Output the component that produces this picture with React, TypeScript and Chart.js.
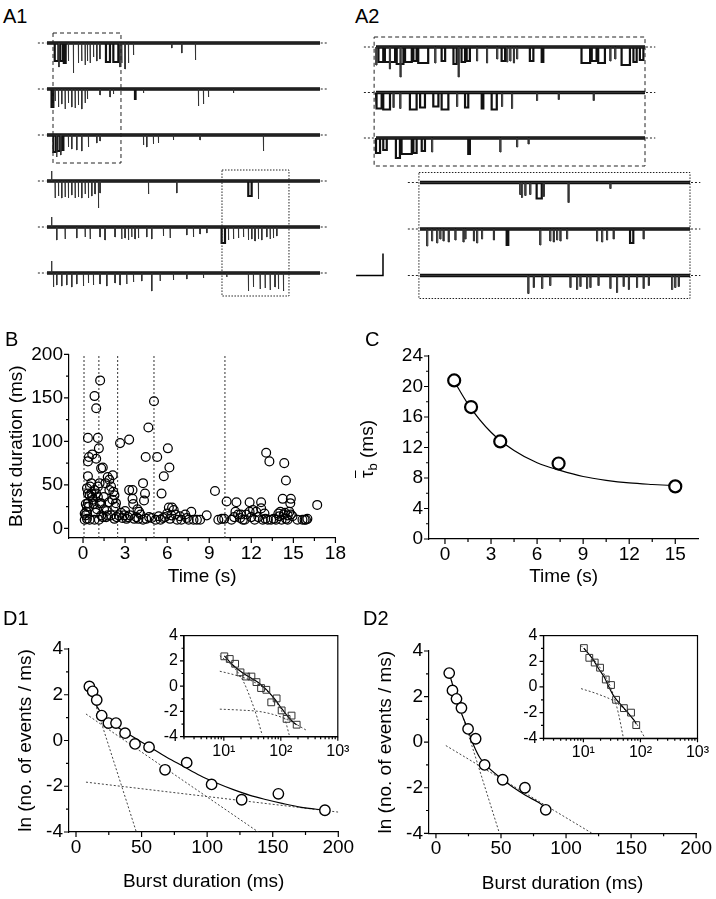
import React, { useEffect, useRef } from "react";
import { Chart, registerables } from "chart.js";

Chart.register(...registerables);

type Ev = [number, number, number]; // [start, duration, amplitude (downward)]
const FONT = "'Liberation Sans', Arial, Helvetica, sans-serif";

// ================= A1: six consecutive 3-s sweeps =================
const A1_SWEEP_S = 3;
const A1_SWEEP_1: Ev[] = [[0.085,0.04,18],[0.13,0.004,24],[0.145,0.03,18],[0.185,0.02,20],[0.234,0.004,18],[0.289,0.004,30],[0.344,0.004,20],[0.38,0.004,18],[0.418,0.004,22],[0.443,0.004,18],[0.473,0.004,20],[0.51,0.004,14],[0.546,0.004,18],[0.58,0.004,16],[0.648,0.044,19],[0.729,0.055,19],[0.8,0.004,24],[0.82,0.004,20],[0.857,0.004,26],[0.894,0.004,20],[0.949,0.004,12],[1.37,0.004,5],[1.48,0.004,10],[1.63,0.004,17]];
const A1_SWEEP_2: Ev[] = [[0.05,0.02,18],[0.088,0.004,12],[0.125,0.004,18],[0.161,0.004,15],[0.198,0.004,20],[0.234,0.004,14],[0.271,0.004,18],[0.308,0.004,19],[0.344,0.004,16],[0.381,0.004,20],[0.418,0.004,14],[0.443,0.004,10],[0.582,0.004,6],[0.692,0.004,8],[0.729,0.004,5],[0.967,0.006,10],[1.059,0.004,4],[1.663,0.004,17],[1.718,0.004,15],[1.773,0.004,8],[2.048,0.004,4]];
const A1_SWEEP_3: Ev[] = [[0.07,0.03,17],[0.105,0.004,22],[0.115,0.03,16],[0.15,0.004,20],[0.165,0.015,15],[0.234,0.004,12],[0.271,0.004,14],[0.326,0.004,15],[0.381,0.004,16],[0.454,0.004,12],[0.546,0.004,8],[0.582,0.004,6],[1.059,0.004,10],[1.095,0.004,12],[1.168,0.004,9],[1.223,0.004,8],[1.388,0.004,5],[1.681,0.004,5],[2.377,0.004,16]];
const A1_SWEEP_4: Ev[] = [[0.05,0.003,-10],[0.088,0.004,17],[0.125,0.004,15],[0.161,0.004,17],[0.198,0.004,16],[0.234,0.004,17],[0.271,0.004,14],[0.308,0.004,17],[0.344,0.004,16],[0.381,0.004,17],[0.418,0.004,13],[0.454,0.004,17],[0.491,0.004,15],[0.527,0.004,13],[0.564,0.004,27],[0.582,0.004,12],[1.114,0.004,13],[1.425,0.004,12],[2.212,0.037,15],[2.322,0.004,18]];
const A1_SWEEP_5: Ev[] = [[0.05,0.003,-10],[0.106,0.004,13],[0.198,0.004,12],[0.326,0.004,11],[0.418,0.004,10],[0.473,0.004,12],[0.582,0.004,10],[0.637,0.004,13],[0.747,0.004,10],[0.82,0.004,12],[0.857,0.004,11],[0.894,0.004,13],[0.93,0.004,10],[0.967,0.004,12],[1.004,0.004,11],[1.095,0.004,10],[1.15,0.004,12],[1.278,0.004,9],[1.352,0.004,11],[1.535,0.004,8],[1.608,0.004,10],[1.681,0.004,7],[1.755,0.004,6],[1.919,0.037,16],[1.993,0.004,13],[2.048,0.004,12],[2.103,0.004,11],[2.158,0.004,10],[2.212,0.004,13],[2.249,0.004,12],[2.285,0.004,14],[2.322,0.004,12],[2.359,0.004,13],[2.414,0.004,10],[2.451,0.004,12],[2.487,0.004,11],[2.524,0.004,9]];
const A1_SWEEP_6: Ev[] = [[0.05,0.003,-12],[0.07,0.004,14],[0.106,0.004,12],[0.161,0.004,13],[0.216,0.004,12],[0.271,0.004,14],[0.326,0.004,11],[0.399,0.004,13],[0.454,0.004,10],[0.509,0.004,12],[0.582,0.004,11],[0.656,0.004,13],[0.747,0.004,10],[0.802,0.004,12],[0.875,0.004,11],[0.949,0.004,9],[1.04,0.004,8],[1.15,0.004,18],[1.242,0.004,8],[1.388,0.004,7],[1.535,0.004,6],[1.718,0.004,5],[1.974,0.004,4],[2.212,0.004,18],[2.267,0.004,14],[2.341,0.004,16],[2.396,0.004,15],[2.451,0.004,17],[2.505,0.004,14],[2.542,0.004,16],[2.597,0.004,18]];
// time windows (s) expanded in A2: first sweeps 1-3, then sweeps 4-6
const A1_WINDOW_START_S = [0.066, 1.923];
const A1_WINDOW_END_S = [0.813, 2.659];

// ================= A2: expanded segments (normalised time) =================
const A2_TOP_1: Ev[] = [[0.0,0.004,18],[0.009,0.018,15],[0.033,0.038,15],[0.05,0.004,22],[0.077,0.025,17],[0.09,0.004,30],[0.108,0.025,15],[0.139,0.012,14],[0.157,0.037,16],[0.219,0.004,16],[0.244,0.013,14],[0.288,0.012,17],[0.306,0.004,30],[0.318,0.013,15],[0.337,0.012,14],[0.374,0.004,14],[0.411,0.004,16],[0.449,0.004,12],[0.467,0.013,14],[0.486,0.004,15],[0.498,0.004,14],[0.511,0.004,16],[0.523,0.004,12],[0.572,0.013,14],[0.616,0.006,15],[0.764,0.032,16],[0.802,0.018,14],[0.826,0.025,16],[0.87,0.004,14],[0.888,0.004,12],[0.913,0.031,18],[0.957,0.012,15],[0.981,0.013,13]];
const A2_TOP_2: Ev[] = [[0.002,0.019,16],[0.027,0.025,17],[0.064,0.004,15],[0.089,0.004,16],[0.126,0.025,17],[0.164,0.018,15],[0.213,0.019,14],[0.244,0.025,17],[0.3,0.004,14],[0.331,0.012,15],[0.393,0.006,16],[0.43,0.019,17],[0.467,0.004,14],[0.504,0.004,16],[0.597,0.004,8],[0.678,0.004,7],[0.808,0.004,8]];
const A2_TOP_3: Ev[] = [[0.0,0.015,15],[0.027,0.013,12],[0.074,0.015,20],[0.095,0.038,16],[0.139,0.012,15],[0.17,0.012,13],[0.207,0.004,14],[0.343,0.006,16],[0.461,0.004,14],[0.523,0.004,9],[0.566,0.004,6]];
const A2_BOTTOM_1: Ev[] = [[0.37,0.004,12],[0.376,0.004,15],[0.389,0.004,13],[0.407,0.004,12],[0.432,0.019,16],[0.457,0.004,14],[0.549,0.004,20],[0.704,0.004,6]];
const A2_BOTTOM_2: Ev[] = [[0.025,0.004,17],[0.043,0.004,12],[0.062,0.004,14],[0.074,0.004,10],[0.086,0.004,12],[0.105,0.004,13],[0.13,0.004,11],[0.16,0.004,13],[0.167,0.004,10],[0.198,0.004,12],[0.21,0.004,14],[0.228,0.004,10],[0.272,0.004,11],[0.321,0.006,16],[0.444,0.004,16],[0.481,0.004,12],[0.494,0.004,13],[0.506,0.004,11],[0.519,0.004,12],[0.543,0.004,10],[0.654,0.004,12],[0.673,0.004,13],[0.691,0.004,11],[0.716,0.004,10],[0.778,0.012,14],[0.827,0.004,10]];
const A2_BOTTOM_3: Ev[] = [[0.4,0.004,18],[0.42,0.004,12],[0.451,0.004,13],[0.481,0.004,10],[0.556,0.004,12],[0.58,0.004,14],[0.593,0.004,11],[0.617,0.004,13],[0.63,0.004,12],[0.66,0.004,10],[0.704,0.004,13],[0.728,0.004,17],[0.753,0.004,11],[0.772,0.004,14],[0.802,0.004,12],[0.827,0.004,13],[0.846,0.004,10],[0.932,0.004,14],[0.944,0.004,12],[0.957,0.004,11]];

// ================= B: burst duration vs time =================
const B_TIME_S = [0.82,0.94,1.22,0.35,1.06,1.13,2.64,3.29,4.66,5.06,4.47,5.29,6.05,6.16,5.76,5.6,13.06,13.29,14.35,14.47,9.41,4.28,4.42,4.35,3.29,3.53,3.53,3.58,3.88,4.0,16.7,10.24,10.94,11.88,12.7,14.24,14.82,14.78,
  0.42,0.35,0.66,0.94,0.59,0.35,0.28,0.35,0.94,1.18,1.29,1.41,1.6,1.76,2.12,1.88,2.0,2.16,2.24,2.35,1.88,1.48,1.29,1.06,0.71,0.42,0.24,0.19,0.28,0.47,0.82,1.13,1.41,1.65,1.76,1.69,2.0,2.24,2.4,2.71,2.94,3.1,3.34,3.65,3.95,4.28,4.71,5.18,5.53,5.84,6.0,6.12,6.35,6.47,6.59,6.71,7.01,7.29,7.53,7.72,7.88,8.12,8.35,8.82,9.65,10.07,10.59,10.78,10.87,11.06,11.25,11.53,11.65,11.88,12.0,12.12,12.24,12.35,12.7,12.82,12.94,13.18,13.41,13.76,13.93,14.07,14.16,14.31,14.47,14.59,14.71,14.82,14.94,15.29,15.65,15.8,16.0,
  0.28,0.35,0.47,0.66,0.82,1.06,1.18,0.12,0.12,0.2,0.5,0.6,0.75,0.9,1.0,1.3,1.5,1.85,2.1,2.3,2.55,2.8,3.0,3.2,3.8,4.1,4.5,4.9,5.4,5.7,6.2,6.3,6.9,7.4,9.9,11.2,11.4,12.5,13.0,13.6,14.0,14.4,14.6,15.9];
const B_BURST_MS = [152,138,170,104,104,92,98,102,116,146,82,82,92,70,60,40,87,77,75,55,43,52,40,32,44,44,34,28,22,19,27,31,30,30,30,34,34,29,
  82,77,85,80,52,60,46,40,40,52,69,70,52,59,61,56,48,42,38,29,44,36,29,36,33,25,19,15,11,10,10,10,13,13,15,20,15,11,13,18,15,11,15,11,11,10,13,10,10,13,17,24,24,21,16,10,10,16,10,19,10,10,10,15,10,11,10,13,19,16,16,10,16,19,13,21,10,19,23,10,17,10,10,10,17,19,10,16,11,10,19,16,14,10,10,10,11,
  25,29,38,36,44,48,29,10,17,28,48,40,28,18,22,15,22,30,33,25,15,12,20,13,13,16,11,12,14,12,11,15,14,12,11,12,10,13,11,11,14,18,15,10];
const B_BOUNDARIES_S = [0.07, 1.13, 2.47, 5.06, 10.12];
const B_X_TICKS = [0, 3, 6, 9, 12, 15, 18];
const B_X_MINOR = [1.5, 4.5, 7.5, 10.5, 13.5, 16.5];
const B_Y_TICKS = [0, 50, 100, 150, 200];
const B_Y_MINOR = [25, 75, 125, 175];

// ================= C: mean burst duration vs time =================
const C_TIME_S = [0.6, 1.7, 3.6, 7.4, 15];
const C_TAU_MS = [20.8, 17.3, 12.8, 9.9, 6.9];
const C_FIT_TIME_S = [0.6, 1.5, 3, 4.5, 6, 7.5, 9, 10.5, 12, 13.5, 15];
const C_FIT_TAU_MS = [20.7, 17.7, 14.0, 11.6, 10.0, 9.0, 8.2, 7.7, 7.35, 7.15, 7.0];
const C_X_TICKS = [0, 3, 6, 9, 12, 15];
const C_X_MINOR = [1.5, 4.5, 7.5, 10.5, 13.5];
const C_Y_TICKS = [0, 4, 8, 12, 16, 20, 24];
const C_Y_MINOR = [2, 6, 10, 14, 18, 22];

// ================= D1 =================
const D1_BURST_MS = [10.2, 12.7, 15.8, 19.6, 24.7, 30.5, 37.4, 45, 55.7, 67.9, 84.4, 103.4, 126.3, 154.3, 189.8];
const D1_LN_EVENTS = [2.36, 2.15, 1.77, 1.09, 0.76, 0.76, 0.32, -0.15, -0.29, -1.28, -0.97, -1.92, -2.59, -2.33, -3.05];
const D1_FIT_MS = [10.2, 14.5, 18.3, 24, 31, 37.4, 43.7, 56.4, 69.1, 81.8, 94.5, 107.2, 120, 132.7, 145.4, 158, 170.8, 189.8];
const D1_FIT_LN = [2.4, 1.65, 1.28, 0.9, 0.6, 0.38, 0.15, -0.29, -0.73, -1.13, -1.53, -1.86, -2.15, -2.4, -2.59, -2.76, -2.91, -3.05];
const D1_COMP1_MS = [10, 46];
const D1_COMP1_LN = [2.45, -4];
const D1_COMP2_MS = [7.6, 139];
const D1_COMP2_LN = [1.16, -4];
const D1_COMP3_MS = [7.6, 200];
const D1_COMP3_LN = [-1.82, -3.13];
const D1_INSET_COMP1_MS = [8.5, 15.7, 22.1, 29.1, 38.3, 47.1];
const D1_INSET_COMP1_LN = [2.41, 1.39, 0.36, -0.92, -2.46, -3.87];
const D1_INSET_COMP2_MS = [8.5, 15.7, 31.2, 54, 81.3, 115, 140.6];
const D1_INSET_COMP2_LN = [1.18, 0.88, 0.41, -0.28, -1.18, -2.46, -3.87];
const D1_INSET_COMP3_MS = [8.5, 20.7, 41, 76, 140.6, 279];
const D1_INSET_COMP3_LN = [-1.82, -1.9, -2.0, -2.26, -2.72, -3.48];

// ================= D2 =================
const D2_BURST_MS = [10.2, 12.7, 15.8, 19.6, 24.7, 30.5, 37.4, 51.3, 68.4, 84.4];
const D2_LN_EVENTS = [3.03, 2.27, 1.9, 1.5, 0.58, 0.15, -1.0, -1.65, -2.0, -2.97];
const D2_FIT_MS = [10.2, 14.5, 18.3, 23.4, 28.5, 33.5, 38.6, 48.8, 59, 69.1, 79.3, 84.4];
const D2_FIT_LN = [3.02, 2.19, 1.46, 0.73, -0.07, -0.66, -1.02, -1.53, -1.97, -2.34, -2.66, -2.88];
const D2_COMP1_MS = [10, 48.8];
const D2_COMP1_LN = [3.05, -4];
const D2_COMP2_MS = [7.6, 120];
const D2_COMP2_LN = [-0.15, -4];
const D2_INSET_COMP1_MS = [9.1, 21, 31.5, 41.1, 50.4];
const D2_INSET_COMP1_LN = [3.23, 1.29, -0.26, -2.06, -4.0];
const D2_INSET_COMP2_MS = [9.1, 18.3, 36, 61.6, 92.3, 120.8];
const D2_INSET_COMP2_LN = [-0.13, -0.57, -1.16, -2.06, -3.1, -4.0];

const D_X_TICKS = [0, 50, 100, 150, 200];
const D_X_MINOR = [25, 75, 125, 175];
const D_Y_TICKS = [-4, -2, 0, 2, 4];
const D_Y_MINOR = [-3, -1, 1, 3];
const INSET_X_TICKS = [10, 100, 1000];
const INSET_X_LABELS = ["10\u00b9", "10\u00b2", "10\u00b3"];
const INSET_X_MINOR = [2, 3, 4, 5, 6, 7, 8, 9, 20, 30, 40, 50, 60, 70, 80, 90, 200, 300, 400, 500, 600, 700, 800, 900];

// ================= helpers =================
const TICK_FONT = 19;
const INSET_FONT = 16;
const pts = (xs: number[], ys: number[]) => xs.map((x, i) => ({ x, y: ys[i] }));

function line(data: any[], o: any = {}) {
  return {
    data,
    showLine: true,
    pointRadius: 0,
    borderColor: o.color ?? "#000",
    borderWidth: o.width ?? 1.2,
    borderDash: o.dash ?? [],
    borderCapStyle: "butt",
    tension: 0,
    cubicInterpolationMode: o.smooth ? "monotone" : "default",
    xAxisID: o.xAxisID ?? "x",
    yAxisID: "y",
    spanGaps: false,
  };
}

function sweepDatasets(sweeps: Ev[][], offsets: number[], tEnd: number, xAxisID: string, mark: number) {
  const base: any[] = [], spikes: any[] = [], blocks: any[] = [], marks: any[] = [];
  sweeps.forEach((evs, i) => {
    const y0 = offsets[i];
    base.push({ x: 0, y: y0 }, { x: tEnd, y: y0 }, { x: tEnd, y: null });
    spikes.push({ x: 0, y: y0 });
    blocks.push({ x: 0, y: y0 });
    evs.forEach(([t, w, a]) => {
      const tgt = w > 0.005 ? blocks : spikes;
      tgt.push({ x: t, y: y0 }, { x: t, y: y0 - a }, { x: t + w, y: y0 - a }, { x: t + w, y: y0 });
    });
    spikes.push({ x: tEnd, y: y0 }, { x: tEnd, y: null });
    blocks.push({ x: tEnd, y: y0 }, { x: tEnd, y: null });
    marks.push({ x: -mark, y: y0 }, { x: -mark * 0.08, y: y0 }, { x: 0, y: null },
      { x: tEnd + mark * 0.08, y: y0 }, { x: tEnd + mark * 0.85, y: y0 }, { x: tEnd + mark, y: null });
  });
  return [
    line(spikes, { color: "#333", width: 1, xAxisID }),
    line(blocks, { color: "#111", width: 2.2, xAxisID }),
    line(base, { color: "#111", width: 3.6, xAxisID }),
    line(marks, { color: "#222", width: 1, dash: [2, 2], xAxisID }),
  ];
}

const rect = (t0: number, t1: number, yTop: number, yBot: number) => [
  { x: t0, y: yTop }, { x: t1, y: yTop }, { x: t1, y: yBot }, { x: t0, y: yBot }, { x: t0, y: yTop },
];

function hiddenLinear(min: number, max: number) {
  return { type: "linear", display: false, min, max };
}

function axis(kind: string, o: any) {
  return {
    type: kind,
    min: o.min,
    max: o.max,
    grid: { display: false, drawTicks: false },
    border: { display: true, color: "#000", width: 1.2 },
    afterBuildTicks: (s: any) => { s.ticks = o.ticks.map((v: number) => ({ value: v })); },
    afterFit: (s: any) => { if (o.horizontal) s.height = o.size; else s.width = o.size; },
    ticks: {
      autoSkip: false, maxRotation: 0, minRotation: 0, padding: o.pad, color: "#000",
      font: { family: FONT, size: o.font },
      callback: (v: any) => (o.labels ? o.labels[o.ticks.indexOf(Number(v))] : String(v)),
    },
    title: o.title
      ? { display: true, text: o.title, color: "#000", font: { family: FONT, size: 19 }, padding: o.titlePad }
      : { display: false },
  };
}

function decor(d: any) {
  return {
    id: "decor",
    afterDraw(chart: any) {
      const { ctx, chartArea: a, scales } = chart;
      const M = d.major ?? 5, m = d.minor ?? 3;
      ctx.save();
      ctx.strokeStyle = "#000";
      ctx.lineWidth = 1.2;
      ctx.beginPath();
      const xt = (vals: number[], len: number) => vals.forEach((v) => {
        const p = scales.x.getPixelForValue(v);
        ctx.moveTo(p, a.bottom); ctx.lineTo(p, a.bottom + len);
      });
      const yt = (vals: number[], len: number) => vals.forEach((v) => {
        const p = scales.y.getPixelForValue(v);
        ctx.moveTo(a.left, p); ctx.lineTo(a.left - len, p);
      });
      xt(d.xMajor, M); xt(d.xMinor, m); yt(d.yMajor, M); yt(d.yMinor, m);
      ctx.stroke();
      if (d.frame) ctx.strokeRect(a.left, a.top, a.right - a.left, a.bottom - a.top);
      ctx.restore();
    },
  };
}

const baseOptions = (padding: any, scales: any) => ({
  responsive: false,
  animation: false,
  devicePixelRatio: 1,
  events: [],
  layout: { padding },
  plugins: { legend: { display: false }, tooltip: { enabled: false }, title: { display: false } },
  scales,
});

// ================= chart configs =================
function cfgA1(): any {
  // canvas left 30, width 305; sweep start 47 px, end 320 px
  const pxPerS = (320 - 47) / A1_SWEEP_S;
  const xMin = (30 - 47) / pxPerS, xMax = (335 - 47) / pxPerS;
  const sweeps = [A1_SWEEP_1, A1_SWEEP_2, A1_SWEEP_3, A1_SWEEP_4, A1_SWEEP_5, A1_SWEEP_6];
  const offsets = sweeps.map((_, i) => -46 * i);
  const ds = sweepDatasets(sweeps, offsets, A1_SWEEP_S, "x", 0.1);
  const w1 = rect(A1_WINDOW_START_S[0], A1_WINDOW_END_S[0], offsets[0] + 10, offsets[2] - 28);
  const w2 = rect(A1_WINDOW_START_S[1], A1_WINDOW_END_S[1], offsets[3] + 11, offsets[5] - 23);
  return {
    type: "scatter",
    data: { datasets: [line(w1, { width: 1, dash: [4, 3], color: "#222" }), line(w2, { width: 1, dash: [1.5, 1.5], color: "#222" }), ...ds] },
    options: baseOptions(0, { x: hiddenLinear(xMin, xMax), y: hiddenLinear(18 - 285, 18) }),
  };
}

function cfgA2(): any {
  const top = [A2_TOP_1, A2_TOP_2, A2_TOP_3];
  const bot = [A2_BOTTOM_1, A2_BOTTOM_2, A2_BOTTOM_3];
  const topOff = top.map((_, i) => -45.5 * i);
  const botOff = bot.map((_, i) => -135.5 - 46.5 * i);
  const dsTop = sweepDatasets(top, topOff, 1, "x", 0.045);
  const dsBot = sweepDatasets(bot, botOff, 1, "xb", 0.045);
  const w1 = rect(-0.007, 1.0, topOff[0] + 10, topOff[2] - 28);
  const w2 = rect(-0.004, 1.0, botOff[0] + 10, botOff[2] - 23);
  const bar = [{ x: -0.074, y: botOff[2] }, { x: 0.026, y: botOff[2] }, { x: 0.026, y: botOff[2] + 22 }];
  return {
    type: "scatter",
    data: {
      datasets: [
        line(w1, { width: 1, dash: [4, 3], color: "#222" }),
        line(w2, { width: 1, dash: [1.5, 1.5], color: "#222", xAxisID: "xb" }),
        line(bar, { width: 1.5, color: "#000" }),
        ...dsTop, ...dsBot,
      ],
    },
    options: baseOptions(0, {
      x: hiddenLinear((350 - 376) / 269, (712 - 376) / 269),
      xb: { ...hiddenLinear((350 - 420) / 270, (712 - 420) / 270), axis: "x" },
      y: hiddenLinear(19 - 280, 19),
    }),
  };
}

function cfgB(): any {
  const bounds = B_BOUNDARIES_S.map((t) => line([{ x: t, y: -11 }, { x: t, y: 200 }], { width: 1, dash: [2, 2], color: "#333" }));
  return {
    type: "scatter",
    data: {
      datasets: [
        { data: pts(B_TIME_S, B_BURST_MS), pointRadius: 4.4, pointBorderWidth: 1.25, pointBorderColor: "#000", pointBackgroundColor: "rgba(0,0,0,0)", showLine: false },
        ...bounds,
      ],
    },
    options: baseOptions({ left: 0, top: 24.3, right: 11.7, bottom: 0 }, {
      x: axis("linear", { min: -1, max: 18, ticks: B_X_TICKS, size: 62, horizontal: true, pad: 4, font: TICK_FONT, title: "Time (s)", titlePad: { top: 0, bottom: 12 } }),
      y: axis("linear", { min: -11, max: 200, ticks: B_Y_TICKS, size: 69, horizontal: false, pad: 6, font: TICK_FONT, title: "Burst duration (ms)", titlePad: { top: 5, bottom: 0 } }),
    }),
    plugins: [decor({ xMajor: B_X_TICKS, xMinor: B_X_MINOR, yMajor: B_Y_TICKS, yMinor: B_Y_MINOR })],
  };
}

function cfgC(): any {
  return {
    type: "scatter",
    data: {
      datasets: [
        { data: pts(C_TIME_S, C_TAU_MS), pointRadius: 6, pointBorderWidth: 2.2, pointBorderColor: "#000", pointBackgroundColor: "#fff", showLine: false },
        line(pts(C_FIT_TIME_S, C_FIT_TAU_MS), { width: 1.2, smooth: true }),
      ],
    },
    options: baseOptions({ left: 0, top: 26, right: 17.7, bottom: 0 }, {
      x: axis("linear", { min: -1.04, max: 16.5, ticks: C_X_TICKS, size: 61, horizontal: true, pad: 4, font: TICK_FONT, title: "Time (s)", titlePad: { top: 0, bottom: 12 } }),
      y: axis("linear", { min: 0, max: 24, ticks: C_Y_TICKS, size: 79, horizontal: false, pad: 6, font: TICK_FONT }),
    }),
    plugins: [decor({ xMajor: C_X_TICKS, xMinor: C_X_MINOR, yMajor: C_Y_TICKS, yMinor: C_Y_MINOR })],
  };
}

const compStyle = { width: 1, dash: [2, 2], color: "#444" };

function cfgD(which: 1 | 2, padding: any, xSize: number, titleBottom: number): any {
  const xs = which === 1 ? D1_BURST_MS : D2_BURST_MS;
  const ys = which === 1 ? D1_LN_EVENTS : D2_LN_EVENTS;
  const comps = which === 1
    ? [pts(D1_COMP1_MS, D1_COMP1_LN), pts(D1_COMP2_MS, D1_COMP2_LN), pts(D1_COMP3_MS, D1_COMP3_LN)]
    : [pts(D2_COMP1_MS, D2_COMP1_LN), pts(D2_COMP2_MS, D2_COMP2_LN)];
  const fit = which === 1 ? pts(D1_FIT_MS, D1_FIT_LN) : pts(D2_FIT_MS, D2_FIT_LN);
  return {
    type: "scatter",
    data: {
      datasets: [
        { data: pts(xs, ys), pointRadius: 5.2, pointBorderWidth: 1.4, pointBorderColor: "#000", pointBackgroundColor: "#fff", showLine: false },
        line(fit, { width: 1.2, smooth: true }),
        ...comps.map((c) => line(c, compStyle)),
      ],
    },
    options: baseOptions(padding, {
      x: axis("linear", { min: -5.34, max: 200, ticks: D_X_TICKS, size: xSize, horizontal: true, pad: 4, font: TICK_FONT, title: "Burst duration (ms)", titlePad: { top: 0, bottom: titleBottom } }),
      y: axis("linear", { min: -4, max: 4, ticks: D_Y_TICKS, size: 69, horizontal: false, pad: 6, font: TICK_FONT, title: "ln (no. of events / ms)", titlePad: { top: 14.8, bottom: 0 } }),
    }),
    plugins: [decor({ xMajor: D_X_TICKS, xMinor: D_X_MINOR, yMajor: D_Y_TICKS, yMinor: D_Y_MINOR })],
  };
}

function cfgInset(which: 1 | 2, padding: any, ySize: number, xSize: number): any {
  const xs = which === 1 ? D1_BURST_MS : D2_BURST_MS;
  const ys = which === 1 ? D1_LN_EVENTS : D2_LN_EVENTS;
  const fit = which === 1 ? pts(D1_FIT_MS, D1_FIT_LN) : pts(D2_FIT_MS, D2_FIT_LN);
  const comps = which === 1
    ? [pts(D1_INSET_COMP1_MS, D1_INSET_COMP1_LN), pts(D1_INSET_COMP2_MS, D1_INSET_COMP2_LN), pts(D1_INSET_COMP3_MS, D1_INSET_COMP3_LN)]
    : [pts(D2_INSET_COMP1_MS, D2_INSET_COMP1_LN), pts(D2_INSET_COMP2_MS, D2_INSET_COMP2_LN)];
  return {
    type: "scatter",
    data: {
      datasets: [
        { data: pts(xs, ys), pointStyle: "rect", pointRadius: 4.8, pointBorderWidth: 1, pointBorderColor: "#333", pointBackgroundColor: "rgba(0,0,0,0)", showLine: false },
        line(fit, { width: 1.2, smooth: true }),
        ...comps.map((c) => line(c, { ...compStyle, smooth: true })),
      ],
    },
    options: baseOptions(padding, {
      x: axis("logarithmic", { min: 2, max: 1000, ticks: INSET_X_TICKS, labels: INSET_X_LABELS, size: xSize, horizontal: true, pad: 5, font: INSET_FONT }),
      y: axis("linear", { min: -4, max: 4, ticks: D_Y_TICKS, size: ySize, horizontal: false, pad: 6, font: INSET_FONT }),
    }),
    plugins: [decor({ xMajor: INSET_X_TICKS, xMinor: INSET_X_MINOR, yMajor: D_Y_TICKS, yMinor: D_Y_MINOR, frame: true, major: 4, minor: 2.5 })],
  };
}

// ================= component =================
type Spec = { key: string; left: number; top: number; w: number; h: number; cfg: () => any };

const SPECS: Spec[] = [
  { key: "a1", left: 30, top: 25, w: 305, h: 285, cfg: cfgA1 },
  { key: "a2", left: 350, top: 28, w: 362, h: 280, cfg: cfgA2 },
  { key: "b", left: 0, top: 330, w: 350, h: 270, cfg: cfgB },
  { key: "c", left: 350, top: 330, w: 366, h: 270, cfg: cfgC },
  { key: "d1", left: 0, top: 620, w: 360, h: 279, cfg: () => cfgD(1, { left: 0, top: 29, right: 21.7, bottom: 0 }, 67, 5.5) },
  { key: "d2", left: 360, top: 620, w: 356, h: 279, cfg: () => cfgD(2, { left: 0, top: 31, right: 17.7, bottom: 0 }, 65.7, 3.8) },
  { key: "d1i", left: 145, top: 620, w: 215, h: 148, cfg: () => cfgInset(1, { left: 0, top: 12.3, right: 22.2, bottom: 0 }, 39, 31.3) },
  { key: "d2i", left: 500, top: 620, w: 216, h: 148, cfg: () => cfgInset(2, { left: 0, top: 13.3, right: 18.5, bottom: 0 }, 43.5, 29.7) },
];

const PANEL_LABELS: [string, number, number][] = [
  ["A1", 3, 6], ["A2", 355, 6], ["B", 5, 329], ["C", 365, 329], ["D1", 3, 607.5], ["D2", 363, 607.5],
];

export default function App() {
  const refs = useRef<(HTMLCanvasElement | null)[]>([]);
  useEffect(() => {
    const charts: Chart[] = [];
    SPECS.forEach((s, i) => {
      const c = refs.current[i];
      if (c) charts.push(new Chart(c, s.cfg()));
    });
    return () => charts.forEach((c) => c.destroy());
  }, []);

  return (
    <div style={{ position: "absolute", left: 0, top: 0, width: 716, height: 899, background: "#fff", overflow: "hidden", fontFamily: FONT, color: "#000" }}>
      {SPECS.map((s, i) => (
        <canvas
          key={s.key}
          ref={(el) => { refs.current[i] = el; }}
          width={s.w}
          height={s.h}
          style={{ position: "absolute", left: s.left, top: s.top, width: s.w, height: s.h }}
        />
      ))}
      {PANEL_LABELS.map(([t, x, y]) => (
        <div key={t} style={{ position: "absolute", left: x, top: y, fontSize: 20, lineHeight: "20px", whiteSpace: "nowrap" }}>{t}</div>
      ))}
      <div style={{ position: "absolute", left: 370, top: 449, transform: "translate(-50%, -50%) rotate(-90deg)", fontSize: 19, whiteSpace: "nowrap", lineHeight: "22px" }}>
        <span style={{ textDecoration: "overline" }}>{"\u03c4"}</span>
        <sub style={{ fontSize: 13, verticalAlign: "-4px" }}>b</sub>
        {" (ms)"}
      </div>
    </div>
  );
}
